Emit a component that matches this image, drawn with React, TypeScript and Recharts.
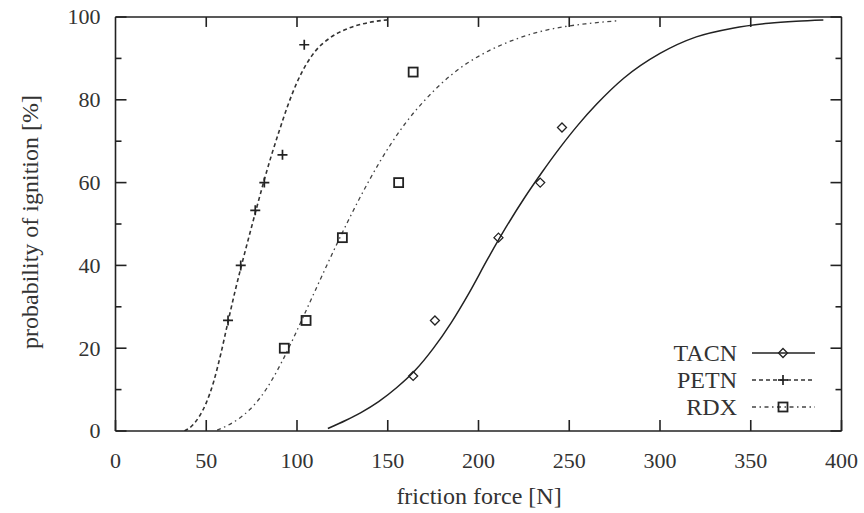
import React from "react";
import { ComposedChart, Line, Scatter, XAxis, YAxis, Legend, ReferenceLine } from "recharts";

// measured points (friction force [N], probability [%])
const tacnPoints = [
  { x: 164, y: 13.3 },
  { x: 176, y: 26.7 },
  { x: 211, y: 46.7 },
  { x: 234, y: 60 },
  { x: 246, y: 73.3 },
];
const petnPoints = [
  { x: 62, y: 26.7 },
  { x: 69, y: 40 },
  { x: 77, y: 53.3 },
  { x: 82, y: 60 },
  { x: 92, y: 66.7 },
  { x: 104, y: 93.3 },
];
const rdxPoints = [
  { x: 93, y: 20 },
  { x: 105, y: 26.7 },
  { x: 125, y: 46.7 },
  { x: 156, y: 60 },
  { x: 164, y: 86.7 },
];

// fitted curves
const tacnFit = [
  { x: 117, y: 0.6 }, { x: 127, y: 2.6 }, { x: 135, y: 4.4 }, { x: 145, y: 7.1 },
  { x: 155, y: 10.5 }, { x: 165, y: 14.6 }, { x: 175, y: 19.9 }, { x: 185, y: 26.2 },
  { x: 195, y: 33.5 }, { x: 205, y: 41.5 }, { x: 215, y: 49.1 }, { x: 225, y: 56.1 },
  { x: 235, y: 62.5 }, { x: 245, y: 68.5 }, { x: 255, y: 74 }, { x: 265, y: 78.9 },
  { x: 280, y: 85.2 }, { x: 300, y: 91.2 }, { x: 320, y: 95.2 }, { x: 340, y: 97.3 },
  { x: 360, y: 98.5 }, { x: 375, y: 99 }, { x: 390, y: 99.3 },
];
const petnFit = [
  { x: 38, y: 0 }, { x: 42, y: 1.2 }, { x: 46, y: 3.4 }, { x: 50, y: 6.8 },
  { x: 54, y: 11.8 }, { x: 58, y: 18.6 }, { x: 62, y: 26.4 }, { x: 66, y: 34 },
  { x: 70, y: 41 }, { x: 74, y: 47.7 }, { x: 78, y: 54.3 }, { x: 82, y: 60.7 },
  { x: 86, y: 66.7 }, { x: 90, y: 72.2 }, { x: 95, y: 78.7 }, { x: 100, y: 84.2 },
  { x: 105, y: 88.5 }, { x: 110, y: 91.7 }, { x: 118, y: 94.9 }, { x: 128, y: 97.2 },
  { x: 140, y: 98.7 }, { x: 150, y: 99.3 },
];
const rdxFit = [
  { x: 56, y: 0.2 }, { x: 62, y: 1.4 }, { x: 68, y: 3 }, { x: 74, y: 5.2 },
  { x: 80, y: 8.2 }, { x: 86, y: 12.2 }, { x: 92, y: 17 }, { x: 98, y: 22.4 },
  { x: 104, y: 28.1 }, { x: 110, y: 33.9 }, { x: 116, y: 39.6 }, { x: 122, y: 45.2 },
  { x: 128, y: 50.6 }, { x: 134, y: 55.8 }, { x: 140, y: 60.7 }, { x: 146, y: 65.3 },
  { x: 152, y: 69.5 }, { x: 160, y: 74.5 }, { x: 170, y: 79.7 }, { x: 180, y: 84.1 },
  { x: 190, y: 87.7 }, { x: 200, y: 90.5 }, { x: 215, y: 93.7 }, { x: 230, y: 96 },
  { x: 245, y: 97.5 }, { x: 260, y: 98.4 }, { x: 277, y: 99.1 },
];

const xTicks = [0, 50, 100, 150, 200, 250, 300, 350, 400];
const yTicks = [0, 10, 20, 30, 40, 50, 60, 70, 80, 90, 100];

const INK = "#222";
const SERIF = "'Liberation Serif', 'DejaVu Serif', serif";
const numStyle = { fontFamily: SERIF, fontSize: 22, fill: "#333" };
const wordStyle = { fontFamily: SERIF, fontSize: 24, fill: "#333" };

const Diamond = ({ cx, cy }: any) => (
  <polygon
    points={`${cx},${cy - 4.5} ${cx + 4.5},${cy} ${cx},${cy + 4.5} ${cx - 4.5},${cy}`}
    fill="none"
    stroke={INK}
    strokeWidth={1.3}
  />
);
const Plus = ({ cx, cy }: any) => (
  <g stroke={INK} strokeWidth={1.7}>
    <line x1={cx - 5} y1={cy} x2={cx + 5} y2={cy} />
    <line x1={cx} y1={cy - 5} x2={cx} y2={cy + 5} />
  </g>
);
const Square = ({ cx, cy }: any) => (
  <rect x={cx - 4.5} y={cy - 4.5} width={9} height={9} fill="none" stroke={INK} strokeWidth={1.8} />
);

const series = [
  { name: "TACN", dash: undefined, width: 1.5, color: "#222", Marker: Diamond },
  { name: "PETN", dash: "4 3", width: 1.6, color: "#333", Marker: Plus },
  { name: "RDX", dash: "4 3.5 1.5 3.5", width: 1.3, color: "#444", Marker: Square },
];

const LeftTick = ({ x, y, payload }: any) => {
  const major = payload.value % 20 === 0;
  const ax = x + 15;
  return (
    <g>
      <line x1={ax} y1={y} x2={ax + (major ? 11 : 6)} y2={y} stroke={INK} strokeWidth={1.6} />
      {major && (
        <text x={x} y={y} dy="0.34em" textAnchor="end" style={numStyle}>
          {payload.value}
        </text>
      )}
    </g>
  );
};
const RightTick = ({ x, y, payload }: any) => {
  const major = payload.value % 20 === 0;
  return <line x1={x} y1={y} x2={x - (major ? 11 : 6)} y2={y} stroke={INK} strokeWidth={1.6} />;
};
// tickMargin 0, so y is the bottom edge of the plot
const BottomTick = ({ x, y, payload }: any) => (
  <g>
    <line x1={x} y1={y} x2={x} y2={y - 11} stroke={INK} strokeWidth={1.6} />
    <text x={x} y={y + 37} textAnchor="middle" style={numStyle}>
      {payload.value}
    </text>
  </g>
);

const renderLegend = () => (
  <svg width={240} height={84}>
    {series.map((s, i) => {
      const y = 15 + i * 27;
      const M = s.Marker;
      return (
        <g key={s.name}>
          <text x={137} y={y} dy="0.34em" textAnchor="end" style={wordStyle}>
            {s.name}
          </text>
          <line x1={152} y1={y} x2={215} y2={y} stroke={s.color} strokeWidth={s.width} strokeDasharray={s.dash} />
          <M cx={183} cy={y} />
        </g>
      );
    })}
  </svg>
);

export default function App() {
  return (
    <div style={{ position: "absolute", left: 0, top: 0, background: "#fff" }}>
      <ComposedChart width={864} height={513} margin={{ top: 0, right: 0, bottom: 22, left: 0 }}>
        <XAxis
          xAxisId="b"
          type="number"
          dataKey="x"
          domain={[0, 400]}
          ticks={xTicks}
          interval={0}
          allowDataOverflow
          height={60}
          tickSize={0}
          tickMargin={0}
          tickLine={false}
          axisLine={{ stroke: INK, strokeWidth: 1.6 }}
          tick={(p: any) => <BottomTick {...p} />}
          label={() => (
            <text x={479} y={504} textAnchor="middle" style={wordStyle}>
              friction force [N]
            </text>
          )}
        />
        <XAxis
          xAxisId="t"
          orientation="top"
          type="number"
          dataKey="x"
          domain={[0, 400]}
          ticks={xTicks}
          interval={0}
          allowDataOverflow
          height={17}
          tickLine={false}
          axisLine={{ stroke: INK, strokeWidth: 1.6 }}
          tick={false}
        />
        <YAxis
          yAxisId="l"
          type="number"
          dataKey="y"
          domain={[0, 100]}
          ticks={yTicks}
          interval={0}
          allowDataOverflow
          width={115.5}
          tickSize={0}
          tickMargin={15}
          tickLine={false}
          axisLine={{ stroke: INK, strokeWidth: 1.6 }}
          tick={(p: any) => <LeftTick {...p} />}
          label={() => (
            <text
              x={30}
              y={222}
              transform="rotate(-90 30 222)"
              dy="0.34em"
              textAnchor="middle"
              style={wordStyle}
            >
              probability of ignition [%]
            </text>
          )}
        />
        <YAxis
          yAxisId="r"
          orientation="right"
          type="number"
          dataKey="y"
          domain={[0, 100]}
          ticks={yTicks}
          interval={0}
          allowDataOverflow
          width={22.5}
          tickSize={0}
          tickMargin={0}
          tickLine={false}
          axisLine={{ stroke: INK, strokeWidth: 1.6 }}
          tick={(p: any) => <RightTick {...p} />}
        />

        {/* inward ticks on the top edge, about 10px long */}
        {xTicks.slice(1, -1).map((t) => (
          <ReferenceLine
            key={`t${t}`}
            xAxisId="b"
            yAxisId="l"
            segment={[{ x: t, y: 100 }, { x: t, y: 97.6 }]}
            stroke={INK}
            strokeWidth={1.6}
          />
        ))}

        <Line
          xAxisId="b"
          yAxisId="l"
          data={tacnFit}
          dataKey="y"
          type="monotone"
          stroke={series[0].color}
          strokeWidth={series[0].width}
          dot={false}
          activeDot={false}
          isAnimationActive={false}
        />
        <Line
          xAxisId="b"
          yAxisId="l"
          data={petnFit}
          dataKey="y"
          type="monotone"
          stroke={series[1].color}
          strokeWidth={series[1].width}
          strokeDasharray={series[1].dash}
          dot={false}
          activeDot={false}
          isAnimationActive={false}
        />
        <Line
          xAxisId="b"
          yAxisId="l"
          data={rdxFit}
          dataKey="y"
          type="monotone"
          stroke={series[2].color}
          strokeWidth={series[2].width}
          strokeDasharray={series[2].dash}
          dot={false}
          activeDot={false}
          isAnimationActive={false}
        />
        <Scatter xAxisId="b" yAxisId="l" data={tacnPoints} dataKey="y" shape={Diamond} isAnimationActive={false} />
        <Scatter xAxisId="b" yAxisId="l" data={petnPoints} dataKey="y" shape={Plus} isAnimationActive={false} />
        <Scatter xAxisId="b" yAxisId="l" data={rdxPoints} dataKey="y" shape={Square} isAnimationActive={false} />

        <Legend
          layout="vertical"
          align="center"
          verticalAlign="middle"
          content={renderLegend}
          wrapperStyle={{ position: "absolute", left: 600, top: 338, width: 240, height: 84 }}
        />
      </ComposedChart>
    </div>
  );
}
